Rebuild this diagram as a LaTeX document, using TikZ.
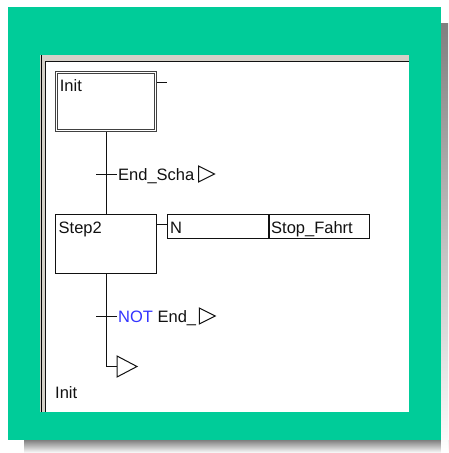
\documentclass[tikz,border=0pt]{standalone}
\usepackage{fontspec}
\setmainfont{Liberation Sans}
\usepackage{xcolor}
\usepackage{tikz}
\usetikzlibrary{positioning,calc}
\definecolor{frame}{HTML}{00CC99}
\definecolor{shade}{HTML}{808080}
\definecolor{kw}{HTML}{3333FF}
\definecolor{face}{HTML}{D4D0C8}
\definecolor{ink}{HTML}{111111}
\tikzset{stepbox/.style={draw=ink, line width=1pt, outer sep=0pt, inner sep=0pt, minimum width=101pt, minimum height=59pt},
         initbox/.style={draw=ink!80, double=white, line width=1pt, double distance=1.4pt, outer sep=0pt, inner sep=0pt, minimum width=98.6pt, minimum height=57.6pt},
         actbox/.style={draw=ink, line width=1pt, outer sep=0pt, inner sep=0pt, minimum height=24pt},
         txt/.style={inner sep=0pt, anchor=base west, text=ink},
         wire/.style={ink, line width=1pt}}
\begin{document}
\begin{tikzpicture}[x=1pt,y=-1pt, font=\fontsize{16.5}{19}\selectfont]
\useasboundingbox (0,0) rectangle (448,453);
% frame, shadow and window
\fill[shade] (24,440) rectangle (448,453); \fill[shade] (441,23) rectangle (448,453);
\fill[frame] (8,7) rectangle (441,440);
\fill[white] (40,55) rectangle (409,412);
\fill[face] (40,55) rectangle (46,412); \fill[face] (40,55) rectangle (409,61);
\draw[shade, line width=1pt] (41.5,55) -- (41.5,412);
\draw[ink, line width=1pt] (45.5,61) -- (45.5,412); \draw[ink, line width=1pt] (45,61.5) -- (409,61.5);
% steps
\node[initbox] (init) at (106,101.5) {};
\node[txt] (initlbl) at ([xshift=3pt, yshift=-19pt]init.north west) {Init};
\node[stepbox] (step2) at (106,244) {};
\node[txt] (step2lbl) at ([xshift=3pt, yshift=-18.5pt]step2.north west) {Step2};
\draw[wire] ([yshift=-9.5pt]init.north east) ++(1.7,0) -- ++(10,0);
% action block
\node[actbox, minimum width=102pt] (qual) at (218,226.5) {};
\node[actbox, minimum width=101pt, right=-1pt of qual] (act) {};
\node[txt] (quallbl) at ([xshift=3pt, yshift=-6.5pt]qual.west) {N};
\node[txt] (actlbl) at ([xshift=3pt, yshift=-6.5pt]act.west) {Stop\_Fahrt};
\draw[wire] ([yshift=2.5pt]qual.west) -- ++(-10,0);
% transitions
\coordinate (tr1) at (106,174);
\coordinate (tr2) at (106,316);
\coordinate (jmp) at (106,366.5);
\draw[wire] ([yshift=-1.7pt]init.south) -- (step2.north);
\draw[wire] (step2.south) -- (jmp) -- ++(11,0) coordinate (jmptip);
\foreach \t in {tr1,tr2} {\draw[wire] (\t) ++(-10,0) -- ++(21,0);}
\node[txt] (tr1lbl) at ([xshift=12pt, yshift=-6.5pt]tr1) {End\_Scha};
\node[txt] (tr2lbl) at ([xshift=12pt, yshift=-6.5pt]tr2) {\textcolor{kw}{NOT} End\_};
\draw[wire] (tr1lbl.east |- tr1) ++(4,0) ++(0,-8) -- ++(16,8) -- ++(-16,8) -- cycle;
\draw[wire] (tr2lbl.east |- tr2) ++(3,0) ++(0,-8) -- ++(16,8) -- ++(-16,8) -- cycle;
% jump back to Init
\draw[wire] (jmptip) ++(0,-10.5) -- ++(20,10.5) -- ++(-20,10.5) -- cycle;
\node[txt] (jmplbl) at (55,398) {Init};
\end{tikzpicture}
\end{document}
